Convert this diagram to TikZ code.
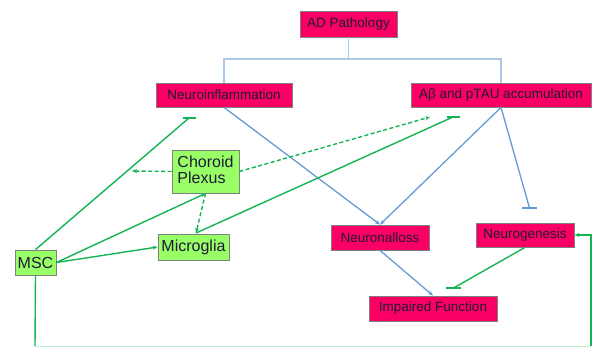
\documentclass[tikz,border=0pt]{standalone}
\usepackage{fontspec}
\setmainfont{Liberation Sans}
\usetikzlibrary{arrows.meta}
\definecolor{pinkfill}{RGB}{250,0,100}
\definecolor{greenfill}{RGB}{153,255,102}
\definecolor{boxborder}{RGB}{128,128,128}
\definecolor{greenline}{RGB}{20,180,85}
\definecolor{blueline}{RGB}{100,155,215}
\definecolor{treeline}{RGB}{170,200,232}
\definecolor{txt}{RGB}{30,25,55}
\definecolor{paleline}{RGB}{190,240,215}
\tikzset{
  pinkbox/.style={draw=boxborder, line width=0.8pt, fill=pinkfill, text=txt, inner sep=0pt,
    font=\fontsize{13.5}{15}\selectfont},
  greenbox/.style={draw=boxborder, line width=0.8pt, fill=greenfill, text=txt, inner sep=0pt,
    font=\fontsize{16}{18}\selectfont, align=left},
  gline/.style={draw=greenline, line width=1.4pt},
  bline/.style={draw=blueline, line width=1.3pt},
  tline/.style={draw=treeline, line width=1.3pt},
  garrow/.style={gline, -{Stealth[length=5pt,width=4pt]}},
  barrow/.style={bline, -{Stealth[length=5pt,width=4pt]}},
  gbarmark/.style={draw=greenline, line width=1.9pt},
  bbarmark/.style={draw=blueline, line width=1.8pt},
  gdash/.style={garrow, dash pattern=on 4pt off 2.5pt},
}
\begin{document}
\begin{tikzpicture}[x=1pt,y=-1pt]
\useasboundingbox (0,0) rectangle (596,347);
% nodes
\node[pinkbox, minimum width=97pt, minimum height=26pt] (AD) at (348.5,24) {AD Pathology};
\node[pinkbox, minimum width=136pt, minimum height=24pt] (NI) at (224,95) {Neuroinflammation};
\node[pinkbox, minimum width=180pt, minimum height=24pt] (AB) at (501,95) {Aβ and pTAU accumulation};
\node[greenbox, minimum width=67pt, minimum height=43pt] (CP) at (205.5,171.5) {\begin{tabular}{@{}l@{}}Choroid\\[-2pt]Plexus\end{tabular}};
\node[greenbox, minimum width=71pt, minimum height=26pt] (MG) at (193.5,247) {Microglia};
\node[greenbox, minimum width=41pt, minimum height=25pt] (MSC) at (35.5,262.5) {MSC};
\node[pinkbox, minimum width=98pt, minimum height=25pt] (NL) at (380,237.5) {Neuronalloss};
\node[pinkbox, minimum width=98pt, minimum height=24pt] (NG) at (525,235) {Neurogenesis};
\node[pinkbox, minimum width=128pt, minimum height=25pt] (IF) at (433,308.5) {Impaired Function};
% coordinates for free ends
\coordinate (treejoin) at (348.5,59);
\coordinate (nibar) at (189,118);
\coordinate (abdash) at (430,117);
\coordinate (abbar) at (453,117);
\coordinate (cpend) at (132,171);
\coordinate (ngbar) at (529.5,208);
\coordinate (ifbar) at (453.5,288);
\coordinate (bottomL) at (35,346.3);
\coordinate (bottomR) at (591,346.3);
\coordinate (mgtop) at (196,233);
% tree
\draw[tline] (AD.south) -- (treejoin) -| (NI.north);
\draw[tline] (treejoin) -| (AB.north);
% blue connectors
\draw[barrow] (NI.south) -- (NL.north);
\draw[barrow] (AB.south) -- (NL.north);
\draw[bline] (AB.south) -- (ngbar);
\draw[bbarmark] ([xshift=-7.5pt]ngbar) -- ([xshift=7.5pt]ngbar);
\draw[barrow] (NL.south) -- (IF.north);
% green connectors
\draw[gline] (NG.south) -- (ifbar);
\draw[gbarmark] ([xshift=-7.5pt]ifbar) -- ([xshift=7.5pt]ifbar);
\draw[gline] (MSC.north) -- (nibar);
\draw[gbarmark] ([xshift=-6.5pt]nibar) -- ([xshift=6.5pt]nibar);
\draw[gdash] (CP.west) -- (cpend);
\draw[gdash] (CP.east) -- (abdash);
\draw[gline] (mgtop) -- (abbar);
\draw[gbarmark] ([xshift=-6.5pt]abbar) -- ([xshift=6.5pt]abbar);
\draw[garrow] (MSC.east) -- (CP.south);
\draw[garrow] (MSC.east) -- (MG.west);
\draw[gdash] (CP.south) -- (mgtop);
\draw[gline] (MSC.south) -- (bottomL);
\draw[draw=paleline, line width=1.4pt] (bottomL) -- (bottomR);
\draw[garrow] (bottomR) |- (NG.east);
\end{tikzpicture}
\end{document}
